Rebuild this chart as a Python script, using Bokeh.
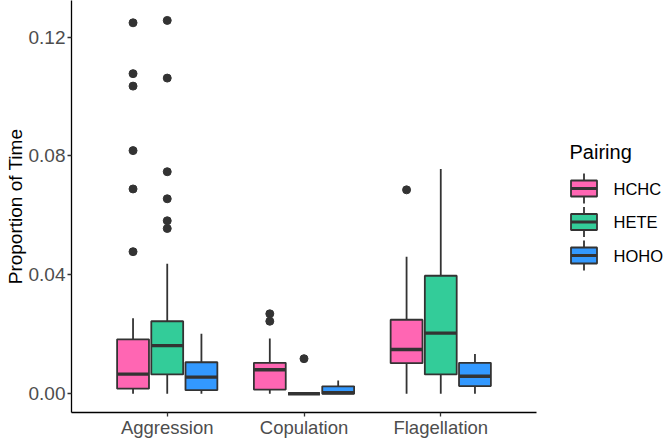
from bokeh.plotting import figure
from bokeh.models import (ColumnDataSource, FactorRange, FixedTicker,
                          NumeralTickFormatter, Range1d)
from bokeh.transform import dodge
from bokeh.layouts import row
from bokeh.embed import file_html
from bokeh.resources import INLINE
from bokeh.core.properties import value

# Behaviours on the x axis and pairing groups within each behaviour
categories = ["Aggression", "Copulation", "Flagellation"]
pairings = ["HCHC", "HETE", "HOHO"]
pair_colors = ["#FF66B3", "#33CC99", "#3399FF"]

# Box statistics per pairing; each list follows the order of `categories`
whisker_low = {
    "HCHC": [0.0, 0.0, 0.0],
    "HETE": [0.0, 0.0, 0.0],
    "HOHO": [0.0, 0.0, 0.0],
}
q1 = {
    "HCHC": [0.0017, 0.0014, 0.0103],
    "HETE": [0.0065, 0.0, 0.0065],
    "HOHO": [0.0012, 0.0, 0.0026],
}
median = {
    "HCHC": [0.0066, 0.0081, 0.0149],
    "HETE": [0.0162, 0.0, 0.0204],
    "HOHO": [0.0056, 0.0004, 0.0059],
}
q3 = {
    "HCHC": [0.0183, 0.0104, 0.0249],
    "HETE": [0.0244, 0.0, 0.0397],
    "HOHO": [0.0106, 0.0025, 0.0104],
}
whisker_high = {
    "HCHC": [0.0254, 0.0186, 0.0461],
    "HETE": [0.0437, 0.0, 0.0756],
    "HOHO": [0.0202, 0.0045, 0.0134],
}
# Outlying observations, one list per behaviour
outliers = {
    "HCHC": [[0.1248, 0.1077, 0.1035, 0.0818, 0.0689, 0.0478],
             [0.0269, 0.0244],
             [0.0686]],
    "HETE": [[0.1256, 0.1062, 0.0747, 0.0656, 0.0582, 0.0556],
             [0.0118],
             []],
    "HOHO": [[], [], []],
}

y_ticks = [0.0, 0.04, 0.08, 0.12]

FONT = "Liberation Sans"
DARK = "#333333"
DODGE = 0.25
BOX_W = 0.233
LW = 1.8

p = figure(
    x_range=FactorRange(*categories, range_padding=0.2,
                        range_padding_units="absolute"),
    y_range=Range1d(-0.0063, 0.1323),
    width=540, height=441,
    min_border_left=71, min_border_right=4,
    min_border_top=0, min_border_bottom=29,
    output_backend="svg", toolbar_location=None,
)
p.outline_line_color = None
p.xgrid.visible = False
p.ygrid.visible = False
p.background_fill_color = "white"
p.border_fill_color = "white"

for j, (name, color) in enumerate(zip(pairings, pair_colors)):
    off = (j - 1) * DODGE
    src = ColumnDataSource(dict(
        x=categories,
        lo=whisker_low[name], q1=q1[name], med=median[name],
        q3=q3[name], hi=whisker_high[name],
    ))
    xc = dodge("x", off, range=p.x_range)
    # whiskers
    p.segment(x0=xc, x1=xc, y0="q3", y1="hi", source=src,
              line_color=DARK, line_width=LW)
    p.segment(x0=xc, x1=xc, y0="lo", y1="q1", source=src,
              line_color=DARK, line_width=LW)
    # box
    p.vbar(x=xc, width=BOX_W, bottom="q1", top="q3", source=src,
           fill_color=color, line_color=DARK, line_width=LW)
    # median bar
    p.segment(x0=dodge("x", off - BOX_W / 2, range=p.x_range),
              x1=dodge("x", off + BOX_W / 2, range=p.x_range),
              y0="med", y1="med", source=src,
              line_color=DARK, line_width=3.4)
    # outliers
    ox, oy = [], []
    for cat, vals in zip(categories, outliers[name]):
        ox += [cat] * len(vals)
        oy += vals
    osrc = ColumnDataSource(dict(x=ox, y=oy))
    p.scatter(x=dodge("x", off, range=p.x_range), y="y", source=osrc,
              size=8, fill_color=DARK, line_color=DARK)

# axes
for ax in (p.xaxis[0], p.yaxis[0]):
    ax.axis_line_color = "black"
    ax.axis_line_width = 1.3
    ax.major_tick_line_color = DARK
    ax.major_tick_line_width = 1.3
    ax.major_tick_out = 4
    ax.major_tick_in = 0
    ax.minor_tick_line_color = None
    ax.major_label_text_font = FONT
    ax.major_label_text_font_size = "19px"
    ax.major_label_text_color = "#4D4D4D"
    ax.major_label_text_line_height = 1.0

p.xaxis.major_label_text_font_size = "18.5px"
p.xaxis.major_label_standoff = 0

p.yaxis.ticker = FixedTicker(ticks=y_ticks)
p.yaxis.formatter = NumeralTickFormatter(format="0.00")
p.yaxis.major_label_standoff = 2
p.yaxis.axis_label = "Proportion of Time"
p.yaxis.axis_label_text_font = FONT
p.yaxis.axis_label_text_font_size = "19px"
p.yaxis.axis_label_text_font_style = "normal"
p.yaxis.axis_label_text_color = "black"
p.yaxis.axis_label_text_line_height = 1.0
p.yaxis.axis_label_standoff = 0

# legend panel; its frame lines up with the main frame (412 px tall)
leg = figure(width=123, height=441, x_range=Range1d(0, 123),
             y_range=Range1d(412, 0), output_backend="svg",
             toolbar_location=None, min_border=0,
             x_axis_location=None, y_axis_location=None)
leg.outline_line_color = None
leg.xgrid.visible = False
leg.ygrid.visible = False

key_left, key_right = 30.5, 56.5
key_cx = (key_left + key_right) / 2
key_y = [188, 221.5, 255]
half_box, whisk = 8, 7
leg_src = ColumnDataSource(dict(
    name=pairings, color=pair_colors, cy=key_y,
    top=[y - half_box for y in key_y], bot=[y + half_box for y in key_y],
    wt=[y - half_box - whisk for y in key_y],
    wb=[y + half_box + whisk for y in key_y],
))
leg.segment(x0=key_cx, x1=key_cx, y0="wt", y1="wb", source=leg_src,
            line_color=DARK, line_width=LW)
leg.quad(left=key_left, right=key_right, top="top", bottom="bot",
         source=leg_src, fill_color="color", line_color=DARK, line_width=LW)
leg.segment(x0=key_left, x1=key_right, y0="cy", y1="cy", source=leg_src,
            line_color=DARK, line_width=3)
leg.text(x=73, y="cy", text="name", source=leg_src,
         text_font=value(FONT), text_font_size="16.5px",
         text_baseline="middle", text_color="black")
leg.text(x=[29], y=[151], text=["Pairing"], text_font=value(FONT),
         text_font_size="20px", text_baseline="middle", text_color="black")

layout = row(p, leg)
open("out.html", "w").write(file_html(layout, INLINE))
